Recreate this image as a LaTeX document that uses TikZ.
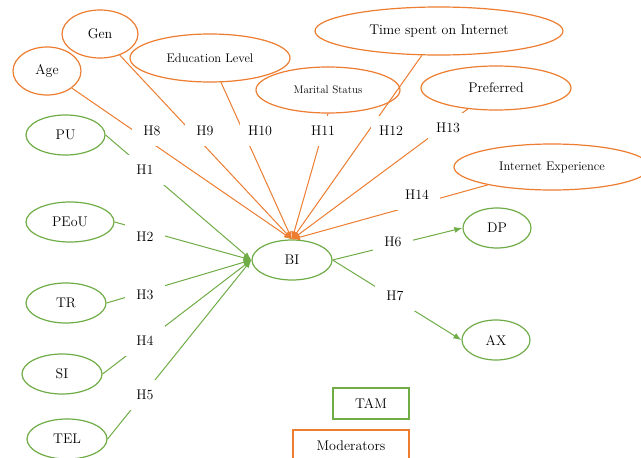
\documentclass[tikz,border=0pt]{standalone}
\usepackage{fontspec}
\usetikzlibrary{shapes.geometric,arrows.meta}
\definecolor{tgreen}{RGB}{112,173,71}
\definecolor{torange}{RGB}{237,125,49}
\begin{document}
\begin{tikzpicture}[x=1pt,y=-1pt,
  every node/.style={font=\fontsize{14}{16}\selectfont},
  gell/.style={ellipse,draw=tgreen,line width=1.2pt,inner sep=0pt},
  oell/.style={ellipse,draw=torange,line width=1.2pt,inner sep=0pt},
  hlab/.style={fill=white,minimum width=40pt,minimum height=30pt,inner sep=0pt},
  gline/.style={draw=tgreen,line width=1pt,-{Latex[length=8pt,width=6pt]}},
  oline/.style={draw=torange,line width=1pt,-{Latex[length=8pt,width=6pt]}},
  legbox/.style={line width=1.2pt,inner sep=0pt}
]
\useasboundingbox[fill=white] (0,0) rectangle (641,458);
% TAM constructs
\node[gell,minimum width=79pt,minimum height=40pt] (PU) at (65.5,135) {PU};
\node[gell,minimum width=88pt,minimum height=40pt] (PEoU) at (70,222) {PEoU};
\node[gell,minimum width=80pt,minimum height=40pt] (TR) at (66,303) {TR};
\node[gell,minimum width=80pt,minimum height=40pt] (SI) at (62,374) {SI};
\node[gell,minimum width=80pt,minimum height=40pt] (TEL) at (67,439) {TEL};
\node[gell,minimum width=80pt,minimum height=40pt] (BI) at (292,260) {BI};
\node[gell,minimum width=68pt,minimum height=40pt] (DP) at (497,228) {DP};
\node[gell,minimum width=68pt,minimum height=40pt] (AX) at (496,340) {AX};
% moderators
\node[oell,minimum width=68pt,minimum height=48pt] (Age) at (47,71) {Age};
\node[oell,minimum width=76pt,minimum height=48pt] (Gen) at (100,34) {Gen};
\node[oell,minimum width=160pt,minimum height=48pt,font=\fontsize{12.5}{14}\selectfont] (EL) at (210,58) {Education Level};
\node[oell,minimum width=144pt,minimum height=46pt,font=\fontsize{11}{13}\selectfont] (MS) at (328,90) {Marital Status};
\node[oell,minimum width=248pt,minimum height=48pt] (TS) at (439,31) {Time spent on Internet};
\node[oell,minimum width=150pt,minimum height=44pt] (PR) at (496,88) {Preferred};
\node[oell,minimum width=196pt,minimum height=46pt,font=\fontsize{12.5}{14}\selectfont] (IE) at (552,167) {Internet Experience};
% connectors
\draw[gline] (PU.east) -- (BI.west);
\draw[gline] (PEoU.east) -- (BI.west);
\draw[gline] (TR.east) -- (BI.west);
\draw[gline] (SI.east) -- (BI.west);
\draw[gline] (TEL.east) -- (BI.west);
\draw[gline] (BI.east) -- (DP.west);
\draw[gline] (BI.east) -- (AX.west);
\draw[oline] (Age) -- (BI.north);
\draw[oline] (Gen) -- (BI.north);
\draw[oline] (EL) -- (BI.north);
\draw[oline] (MS.south) -- (BI.north);
\draw[oline] (TS) -- (BI.north);
\draw[oline] (PR) -- (BI.north);
\draw[oline] (IE) -- (BI.north);
% hypothesis labels
\node[hlab] (h1) at (145,170) {H1};
\node[hlab] (h2) at (145,237) {H2};
\node[hlab] (h3) at (145,295) {H3};
\node[hlab] (h4) at (145,341) {H4};
\node[hlab] (h5) at (145,395) {H5};
\node[hlab] (h6) at (393,242) {H6};
\node[hlab] (h7) at (395,296) {H7};
\node[hlab] (h8) at (152,131) {H8};
\node[hlab] (h9) at (205,131) {H9};
\node[hlab] (h10) at (260,131) {H10};
\node[hlab] (h11) at (323,131) {H11};
\node[hlab] (h12) at (391,131) {H12};
\node[hlab] (h13) at (448,128) {H13};
\node[hlab,minimum width=46pt] (h14) at (417,195) {H14};
% legend
\node[legbox,draw=tgreen,minimum width=76pt,minimum height=31pt] (tam) at (371,403.5) {TAM};
\node[legbox,draw=torange,minimum width=116pt,minimum height=32pt] (mod) at (351,446) {Moderators};
\end{tikzpicture}
\end{document}
